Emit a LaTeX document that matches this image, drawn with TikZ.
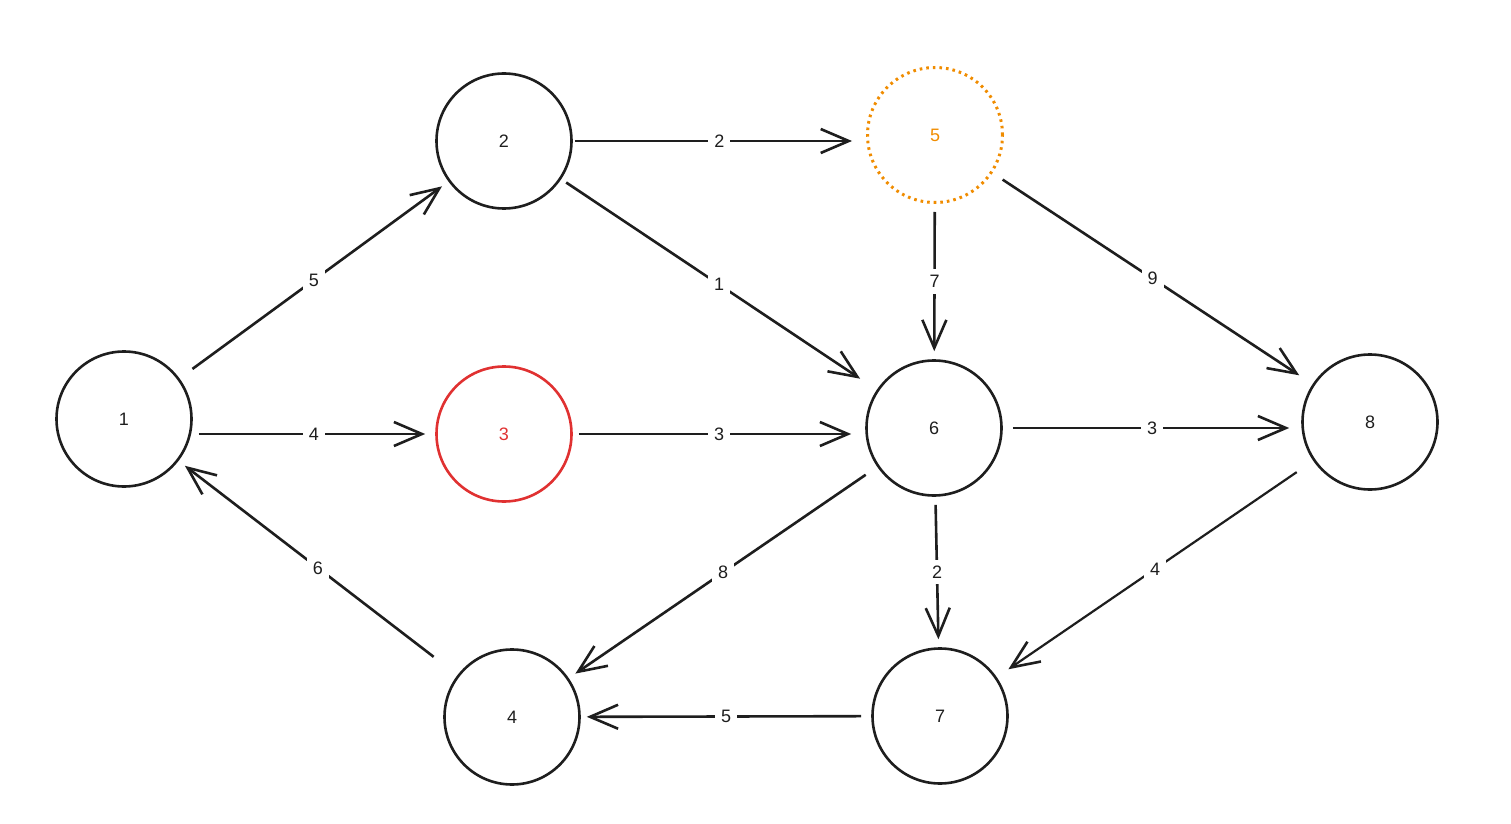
\documentclass[tikz,border=0pt]{standalone}
\usepackage{fontspec}
\setmainfont{Liberation Sans}
\usetikzlibrary{arrows.meta}
\definecolor{exred}{HTML}{E03131}
\definecolor{exorange}{HTML}{F08C00}
\definecolor{ink}{HTML}{1E1E1E}
\tikzset{
  vtx/.style={circle, draw=ink, line width=1.3pt, minimum size=67.5pt, inner sep=0pt, text=ink, font=\fontsize{9}{10}\selectfont},
  edge/.style={draw=ink, line width=1.3pt, -{Straight Barb[length=14pt, width=12pt, line width=1.3pt]}},
  lbl/.style={fill=white, inner sep=3pt, text=ink, font=\fontsize{9}{10}\selectfont},
}
\begin{document}
\begin{tikzpicture}[x=0.5pt, y=-0.5pt]
\useasboundingbox (0,0) rectangle (1511,824);
\node[vtx] (n1) at (124,419) {1};
\node[vtx] (n2) at (504,141) {2};
\node[vtx, draw=exred, text=exred] (n3) at (504,434) {3};
\node[vtx] (n4) at (512,717) {4};
\node[vtx, draw=exorange, text=exorange, dotted, line width=1.5pt] (n5) at (935,135) {5};
\node[vtx] (n6) at (934,428) {6};
\node[vtx] (n7) at (940,716) {7};
\node[vtx] (n8) at (1370,422) {8};

\draw[edge, shorten <=8pt, shorten >=4pt] (n1) -- node[lbl] {5} (n2);
\draw[edge, shorten <=3pt, shorten >=5pt] (n1.east |- n3.west) -- node[lbl] {4} (n3.west);
\draw[edge, shorten <=15pt, shorten >=4pt] (n4) -- node[lbl] {6} (n1);
\draw[edge, shorten <=1pt, shorten >=7pt] (n2.east) -- node[lbl] {2} (n2.east -| n5.west);
\draw[edge, shorten <=3pt, shorten >=10pt] (n2) -- node[lbl] {1} (n6);
\draw[edge, shorten <=3pt, shorten >=7pt] (n3.east) -- node[lbl] {3} (n3.east -| n6.west);
\draw[edge, shorten <=4pt, shorten >=4pt] (n5) -- node[lbl] {7} (n6);
\draw[edge, shorten <=6pt, shorten >=8pt] (n5) -- node[lbl] {9} (n8);
\draw[edge, shorten <=5pt, shorten >=6pt] (n6.east) -- node[lbl] {3} (n6.east -| n8.west);
\draw[edge, shorten <=7pt, shorten >=4pt] (n6) -- node[lbl] {8} (n4);
\draw[edge, shorten <=4pt, shorten >=4pt] (n6) -- node[lbl] {2} (n7);
\draw[edge, shorten <=5pt, shorten >=3pt] (n7) -- node[lbl] {5} (n4);
\draw[edge, line width=1.1pt, shorten <=10pt, shorten >=7pt] (n8) -- node[lbl] {4} (n7);
\end{tikzpicture}
\end{document}
